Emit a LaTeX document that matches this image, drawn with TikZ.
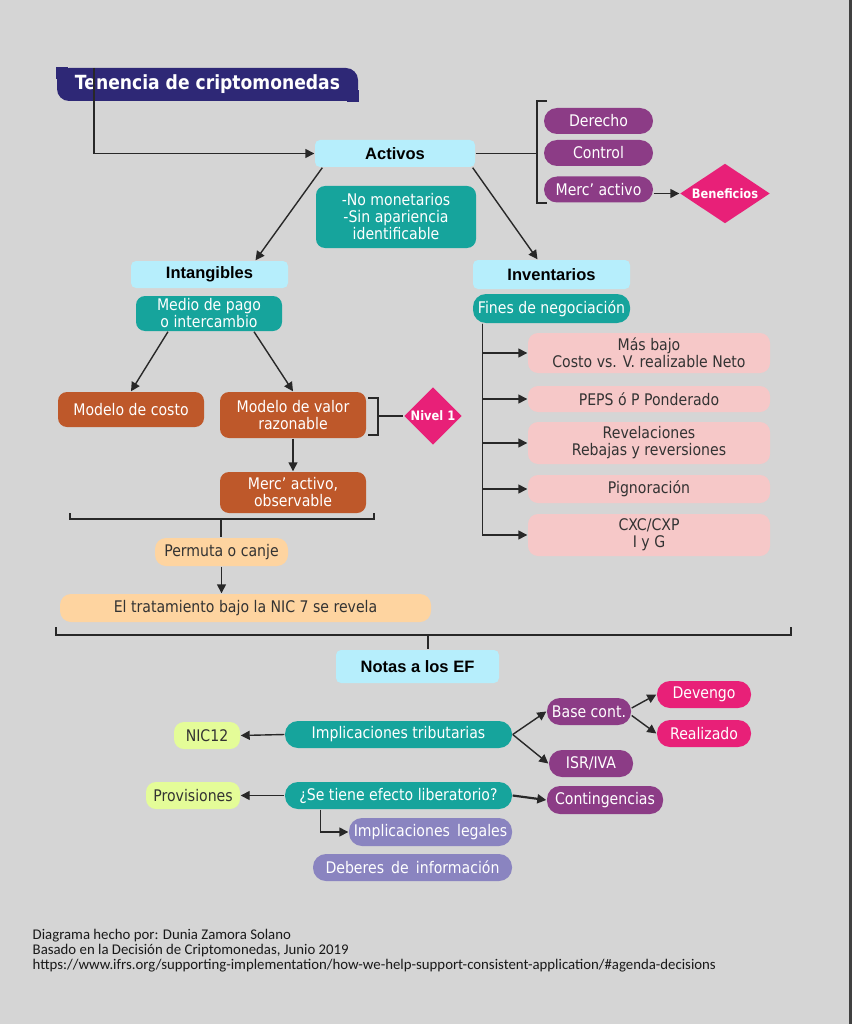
\documentclass[tikz,border=0pt]{standalone}
\usepackage{fontspec}
\setmainfont{DejaVu Sans}[FakeStretch=0.88]
\newfontfamily\headfont{Liberation Sans}
\newfontfamily\notefont{Carlito}
\usetikzlibrary{positioning, arrows.meta, shapes.geometric}
\definecolor{bggrey}{RGB}{213,213,213}
\definecolor{navy}{RGB}{46,40,118}
\definecolor{skyblue}{RGB}{182,238,252}
\definecolor{sea}{RGB}{22,164,156}
\definecolor{plum}{RGB}{140,60,134}
\definecolor{hotpink}{RGB}{232,32,120}
\definecolor{rust}{RGB}{190,88,42}
\definecolor{peach}{RGB}{254,212,160}
\definecolor{blush}{RGB}{246,200,200}
\definecolor{palelime}{RGB}{228,252,152}
\definecolor{lavender}{RGB}{138,132,192}
\definecolor{linegrey}{RGB}{40,40,40}

\begin{document}
\begin{tikzpicture}[x=1pt, y=-1pt, line width=1.4pt, color=linegrey,
  >={Triangle[length=9pt,width=9pt]},
  box/.style={rounded corners=7pt, inner sep=0pt, align=center, text=white,
    font=\fontsize{16}{17}\selectfont},
  headbox/.style={box, fill=skyblue, text=black, rounded corners=5pt,
    font=\headfont\bfseries\fontsize{16.5}{18}\selectfont},
  pill/.style={box, rounded corners=13pt},
  gem/.style={diamond, fill=hotpink, inner sep=0pt, text=white,
    font=\bfseries\fontsize{13}{14}\selectfont}]
  \fill[bggrey] (0,0) rectangle (852,1024);
  \useasboundingbox (0,0) rectangle (852,1024);
  \fill[black!75] (849,0) rectangle (852,1024);

  % title
  \node[box, fill=navy, rounded corners=12pt, minimum width=301pt, minimum height=33pt,
    font=\bfseries\fontsize{19.5}{20}\selectfont] (title) at (207.5,84.5) {Tenencia de criptomonedas};
  \fill[navy] (title.north west) rectangle +(12,12);
  \fill[navy] (title.south east) rectangle +(-12,-12);

  % activos
  \node[headbox, minimum width=160pt, minimum height=27pt] (act) at (395,153.5) {Activos};
  \node[box, fill=sea, rounded corners=9pt, minimum width=160pt, minimum height=62pt] (carac)
    at (396,217) {-No monetarios\\-Sin apariencia\\identificable};
  % name, y, label
  \foreach \n/\y/\txt in {der/121/Derecho, ctl/153/Control, mer/189.5/{Merc’ activo}}
    \node[pill, fill=plum, minimum width=109pt, minimum height=26pt] (\n) at (598.5,\y) {\txt};
  \node[gem, shape aspect=1.5, minimum width=90pt, minimum height=60pt] (ben) at (725,193.5) {Beneficios};

  % intangibles
  \node[headbox, minimum width=157pt, minimum height=27pt] (intang) at (209.5,274.5) {Intangibles};
  \node[box, fill=sea, rounded corners=9pt, minimum width=146pt, minimum height=35pt] (medio)
    at (209,313.5) {Medio de pago\\o intercambio};
  \node[box, fill=rust, rounded corners=9pt, minimum width=146pt, minimum height=35pt] (costo)
    at (131,409.5) {Modelo de costo};
  \node[box, fill=rust, rounded corners=9pt, minimum width=146pt, minimum height=46pt] (valor)
    at (293,415) {Modelo de valor\\razonable};
  \node[gem, minimum width=58pt, minimum height=58pt] (nivel) at (433,416) {Nivel 1};
  \node[box, fill=rust, rounded corners=9pt, minimum width=146pt, minimum height=41pt] (observ)
    at (293,492.5) {Merc’ activo,\\observable};
  \node[box, fill=peach, text=black!80, rounded corners=11pt, minimum width=133pt, minimum height=28pt] (permuta)
    at (221.5,552) {Permuta o canje};
  \node[box, fill=peach, text=black!80, rounded corners=11pt, minimum width=371pt, minimum height=28pt] (nic7)
    at (245.5,608) {El tratamiento bajo la NIC 7 se revela};

  % inventarios
  \node[headbox, minimum width=157pt, minimum height=29pt] (inv) at (551.5,274.5) {Inventarios};
  \node[pill, fill=sea, minimum width=157pt, minimum height=29pt] (fines) at (551.5,308.5) {Fines de negociación};
  \coordinate (trunk) at ([xshift=10pt]fines.south west);
  % index, y, height, label
  \foreach \i/\y/\h/\txt in {1/353/40pt/{Más bajo\\Costo vs. V. realizable Neto},
                             2/399/26pt/{PEPS ó P Ponderado},
                             3/443/42pt/{Revelaciones\\Rebajas y reversiones},
                             4/489/28pt/{Pignoración},
                             5/535/42pt/{CXC/CXP\\I y G}} {
    \node[box, fill=blush, text=black!80, rounded corners=10pt, minimum width=242pt, minimum height=\h]
      (inv\i) at (649,\y) {\txt};
    \draw[->] (trunk) |- (inv\i.west);
  }

  % notas
  \node[headbox, minimum width=163pt, minimum height=33pt] (notas) at (417.5,666.5) {Notas a los EF};
  \node[pill, fill=sea, minimum width=227pt, minimum height=27pt] (trib) at (398.5,734.5) {Implicaciones tributarias};
  \node[pill, fill=palelime, text=black!80, rounded corners=10pt, minimum width=66pt, minimum height=27pt] (nic12)
    at (207,735.5) {NIC12};
  \node[pill, fill=plum, minimum width=84pt, minimum height=27pt] (base) at (589,711.5) {Base cont.};
  \node[pill, fill=plum, minimum width=84pt, minimum height=27pt] (isr) at (591,763.5) {ISR/IVA};
  \node[pill, fill=hotpink, minimum width=94pt, minimum height=27pt] (dev) at (704,694.5) {Devengo};
  \node[pill, fill=hotpink, minimum width=94pt, minimum height=27pt] (real) at (704,733.5) {Realizado};
  \node[pill, fill=sea, minimum width=227pt, minimum height=27pt] (lib) at (398.5,795.5) {¿Se tiene efecto liberatorio?};
  \node[pill, fill=palelime, text=black!80, rounded corners=10pt, minimum width=94pt, minimum height=27pt] (prov)
    at (193,795.5) {Provisiones};
  \node[pill, fill=plum, minimum width=116pt, minimum height=28pt] (cont) at (605,800) {Contingencias};
  \node[pill, fill=lavender, minimum width=163pt, minimum height=28pt] (legal) at (430.5,832) {Implicaciones\, legales};
  \node[pill, fill=lavender, minimum width=199pt, minimum height=27pt] (deber) at (412.5,867.5) {Deberes\, de\, información};

  \node[anchor=north west, align=left, inner sep=0pt, text=black!90,
    font=\notefont\fontsize{14.8}{15}\selectfont] (credit) at (32,929)
    {Diagrama hecho por: Dunia Zamora Solano\\
     Basado en la Decisión de Criptomonedas, Junio 2019\\
     https://www.ifrs.org/supporting-implementation/how-we-help-support-consistent-application/\#agenda-decisions};

  % connectors
  \coordinate (tstart) at (94,68);
  \draw[->] (tstart) |- (act.west);
  \draw (act.east) -- (537,153.5);
  \draw (547,101) -- (537,101) -- (537,203) -- (547,203);
  \draw[->] ([yshift=-4pt]mer.east) -- (ben.west);
  \draw[->] ([xshift=8pt]act.south west) -- ([xshift=46pt]intang.north);
  \draw[->] ([xshift=-3pt]act.south east) -- ([xshift=-14pt]inv.north);
  \draw[->] ([xshift=-41pt]medio.south) -- (costo.north);
  \draw[->] ([xshift=45pt]medio.south) -- (valor.north);
  \draw (368,398) -- (378,398) -- (378,435) -- (368,435);
  \draw (378,416) -- (nivel.west);
  \draw[->] (valor.south) -- (observ.north);
  \draw (70,513) -- (70,519) -- (374,519) -- (374,513);
  \coordinate (join1) at (221,519);
  \draw (join1) -- (join1 |- permuta.north);
  \draw[->] (permuta.south) -- (permuta.south |- nic7.north);
  \draw (56,627) -- (56,635) -- (791,635) -- (791,627);
  \coordinate (join2) at (428,635);
  \draw (join2) -- (join2 |- notas.north);
  \draw[->] (trib.west) -- (nic12.east);
  \draw[->] (trib.east) -- (base.west);
  \draw[->] (trib.east) -- (isr.west);
  \draw[->] ([yshift=3.5pt]base.east) -- (dev.west);
  \draw[->] ([yshift=-4pt]base.east) -- (real.west);
  \draw[->] (lib.west) -- (prov.east);
  \draw[->, line width=2.2pt] (lib.east) -- (cont.west);
  \draw[->] ([xshift=36pt]lib.south west) |- (legal.west);
\end{tikzpicture}
\end{document}
